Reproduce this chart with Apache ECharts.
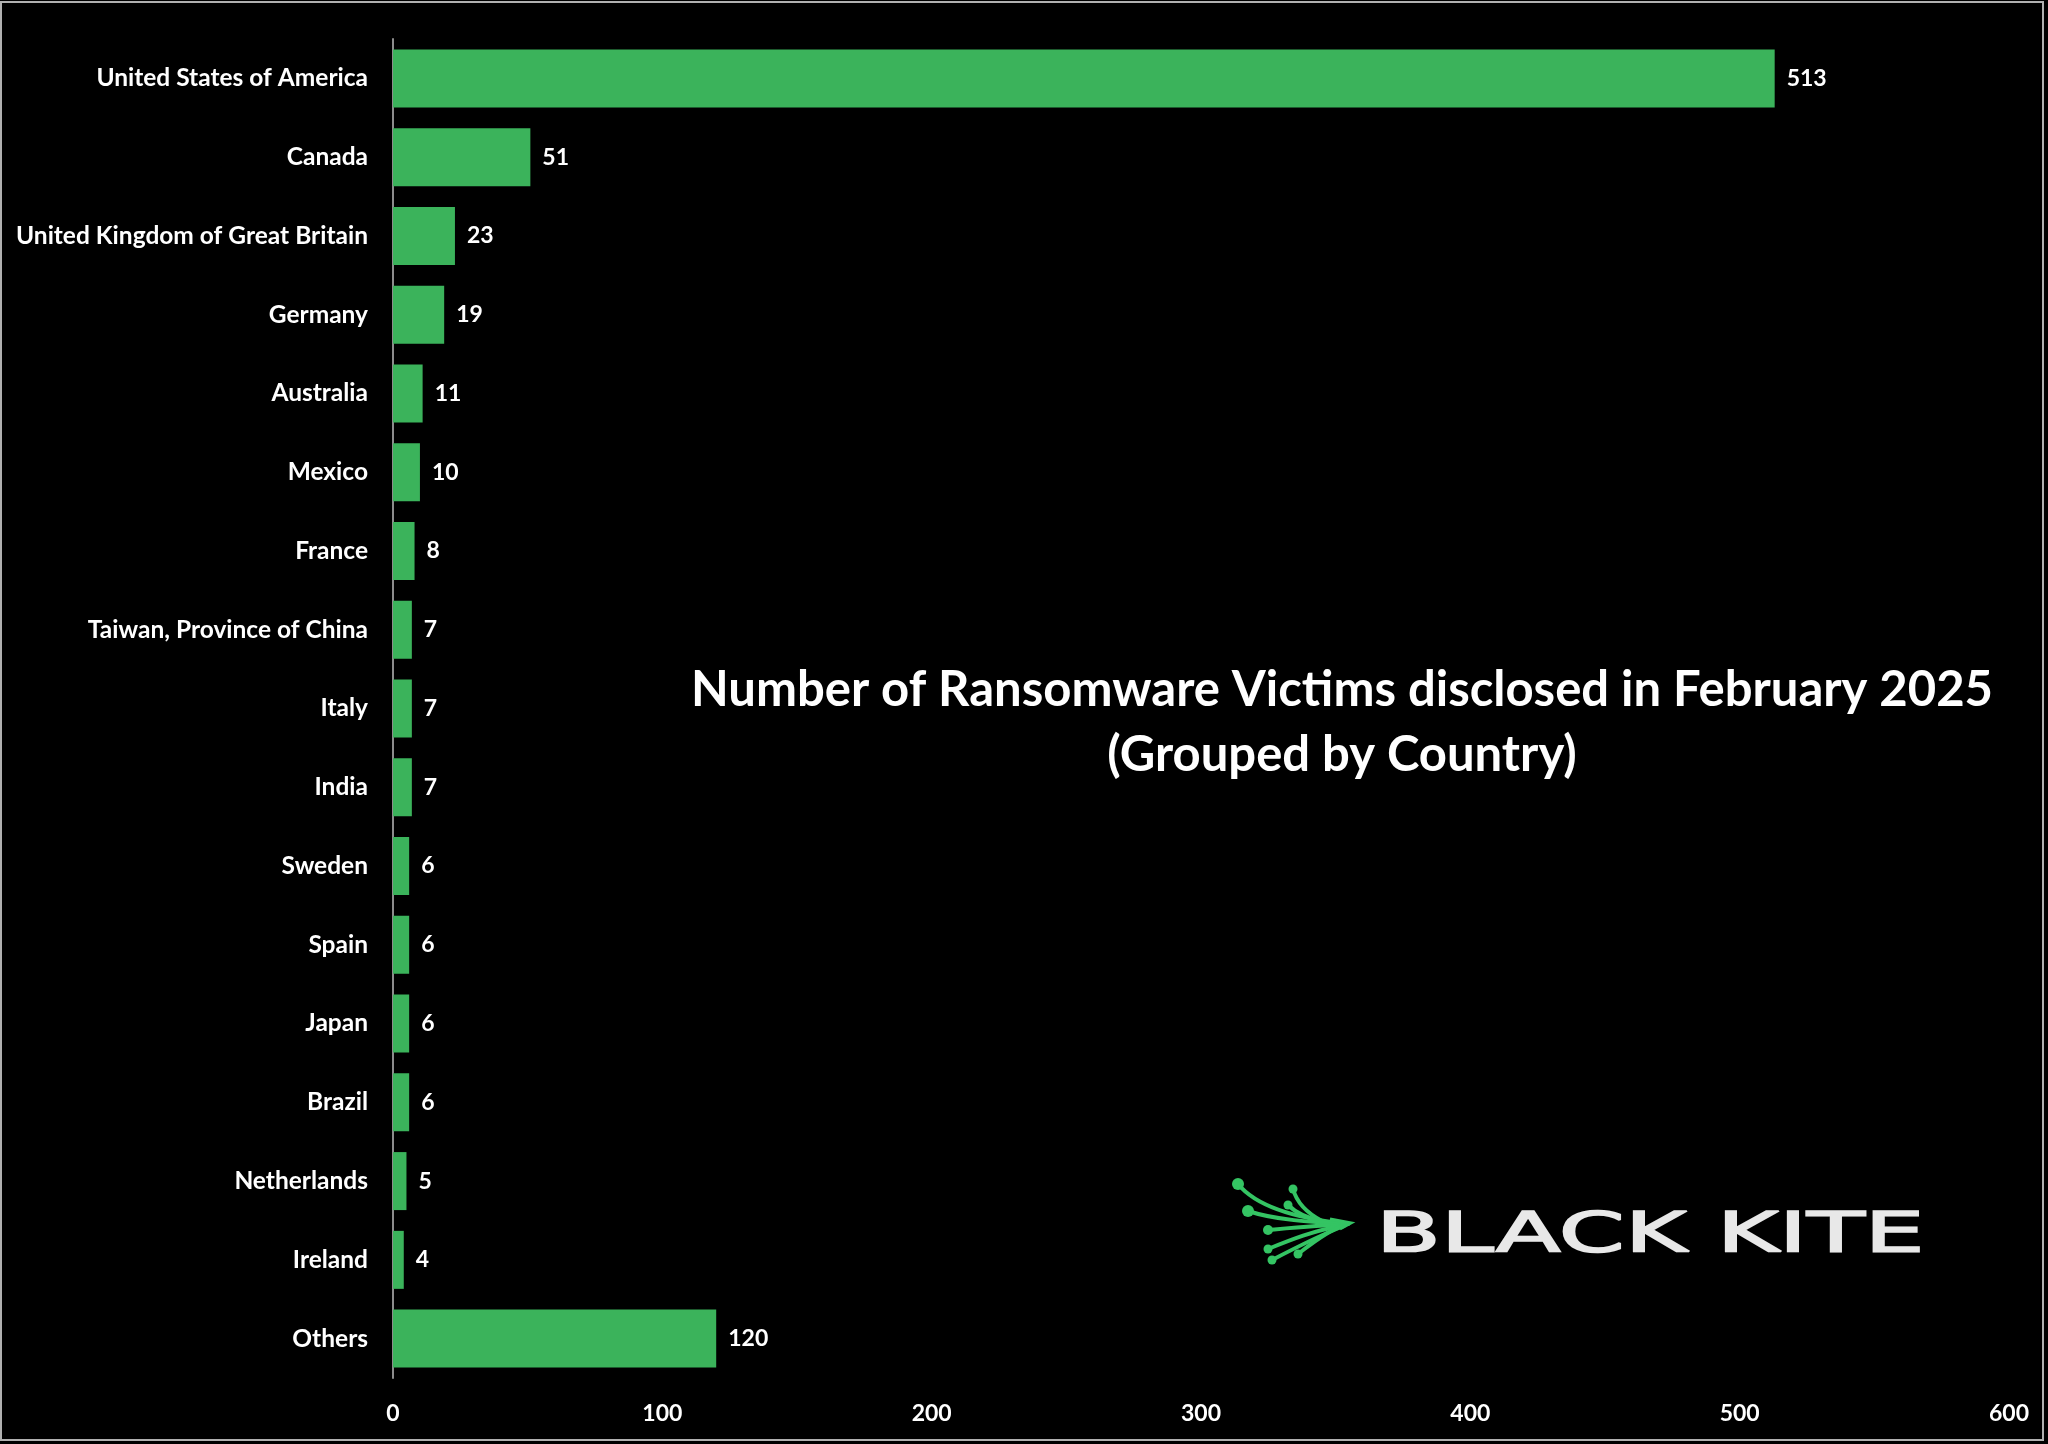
<!DOCTYPE html>
<html><head><meta charset="utf-8">
<script src="https://cdn.jsdelivr.net/npm/echarts@6/dist/echarts.min.js"></script>
<style>html,body{margin:0;padding:0;background:#000}#c{width:2048px;height:1444px}</style>
</head><body><div id="c"></div>
<script>
const categories = ["United States of America","Canada","United Kingdom of Great Britain","Germany","Australia","Mexico","France","Taiwan, Province of China","Italy","India","Sweden","Spain","Japan","Brazil","Netherlands","Ireland","Others"];
const victims = [513,51,23,19,11,10,8,7,7,7,6,6,6,6,5,4,120];
const xTicks = [0,100,200,300,400,500,600];

const chart = echarts.init(document.getElementById('c'));
const green = '#3BB35B';
const lg = '#34c463';
const F = 'Lato';
function curve(x1,y1,c1x,c1y,c2x,c2y,x2,y2){
  return {type:'bezierCurve', shape:{x1:x1,y1:y1,cpx1:c1x,cpy1:c1y,cpx2:c2x,cpy2:c2y,x2:x2,y2:y2}, style:{stroke:lg,lineWidth:4,fill:null,lineCap:'round'}, silent:true};
}
function dot(cx,cy,r){ return {type:'circle', shape:{cx:cx,cy:cy,r:r}, style:{fill:lg}, silent:true}; }
chart.setOption({
  backgroundColor: '#000',
  animation: false,
  grid: {left: 393, right: 39, top: 39, bottom: 66},
  xAxis: {
    type: 'value', min: xTicks[0], max: xTicks[xTicks.length-1], interval: 100,
    axisLine: {show: false}, axisTick: {show: false}, splitLine: {show: false},
    axisLabel: {color: '#fff', fontFamily: F, fontWeight: 'bold', fontSize: 23, margin: 24}
  },
  yAxis: {
    type: 'category', data: categories, inverse: true,
    axisLine: {show: true, lineStyle: {color: '#8c8c8c', width: 2}},
    axisTick: {show: false},
    axisLabel: {color: '#fff', fontFamily: F, fontWeight: 'bold', fontSize: 24.5, margin: 25}
  },
  series: [{
    type: 'bar', data: victims, barWidth: 58,
    itemStyle: {color: green},
    label: {show: true, position: 'right', distance: 12, color: '#fff', fontFamily: F, fontWeight: 'bold', fontSize: 23}
  }],
  graphic: [
    {type: 'rect', shape: {x: 1, y: 2, width: 2042, height: 1438}, style: {fill: null, stroke: '#b0b0b0', lineWidth: 2}, silent: true, z: 100},
    {type: 'text', style: {x: 1342, y: 690, text: 'Number of Ransomware Victims disclosed in February 2025', fill: '#fff', font: 'bold 49px Lato', align: 'center', verticalAlign: 'middle'}},
    {type: 'text', style: {x: 1342, y: 755, text: '(Grouped by Country)', fill: '#fff', font: 'bold 49px Lato', align: 'center', verticalAlign: 'middle'}},
    {type: 'text', x: 1376, y: 1237, scaleX: 1.72, style: {x: 0, y: 0, text: 'BLACK KITE', fill: '#e8e8e8', stroke: '#e8e8e8', lineWidth: 1.6, font: '55px "DejaVu Sans"', align: 'left', verticalAlign: 'middle'}},
    curve(1238,1184, 1255,1205, 1290,1218, 1348,1224),
    curve(1293,1189, 1296,1200, 1305,1212, 1322,1221),
    curve(1288,1205, 1295,1212, 1305,1218, 1324,1222),
    curve(1248,1211, 1275,1220, 1310,1222, 1348,1224),
    curve(1268,1230, 1290,1228, 1320,1225, 1345,1225),
    curve(1268,1249, 1290,1240, 1315,1230, 1342,1226),
    curve(1298,1254, 1310,1245, 1325,1232, 1342,1226),
    curve(1272,1260, 1295,1248, 1320,1235, 1344,1226),
    {type:'polyline', shape:{points:[[1330,1219],[1351,1223],[1340,1229]]}, style:{stroke:lg,lineWidth:3,fill:null}, silent:true},
    dot(1238,1184,6), dot(1293,1189,4.5), dot(1288,1205,4.5), dot(1248,1211,6),
    dot(1268,1230,5), dot(1268,1249,4.5), dot(1298,1254,4.5), dot(1272,1260,4.5)
  ]
});
</script></body></html>
